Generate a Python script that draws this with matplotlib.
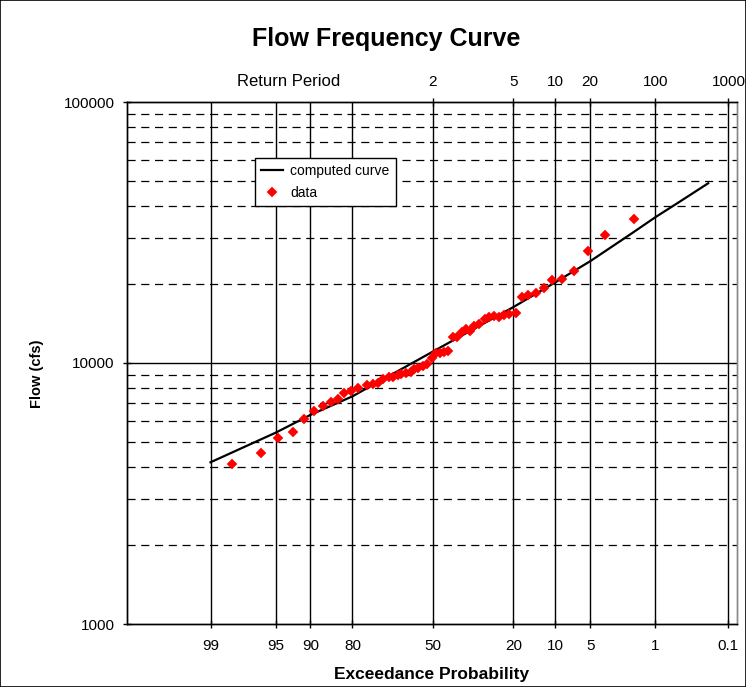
import matplotlib
matplotlib.use("Agg")
import matplotlib.pyplot as plt
from matplotlib.patches import Rectangle
from statistics import NormalDist

plt.rcParams['font.family'] = ['Liberation Sans', 'DejaVu Sans']

# ---- data ----
# observed data: exceedance probability (%) and flow (cfs)
data_prob = [98.2, 96.4, 94.7, 92.9, 91.2, 89.4, 87.5, 85.7, 84.0, 82.3,
             80.5, 78.4, 75.6, 73.6, 71.9, 69.8, 67.9, 66.3, 64.3, 62.9,
             61.1, 59.1, 57.8, 56.2, 54.3, 52.4, 50.5, 48.9, 47.1, 45.4,
             43.6, 41.6, 40.0, 38.2, 36.5, 34.9, 33.3, 31.4, 29.3, 27.9,
             26.1, 24.5, 22.8, 21.2, 19.3, 17.6, 16.0, 14.1, 12.3, 10.6,
             8.8, 7.0, 5.2, 3.56, 1.79]
data_flow = [4105, 4518, 5160, 5440, 6101, 6520, 6842, 7089, 7278, 7642,
             7777, 8000, 8260, 8310, 8405, 8706, 8840, 8862, 8974, 9052,
             9157, 9262, 9461, 9569, 9713, 9938, 10420, 10875, 10922, 11050,
             11070, 12613, 12547, 13182, 13459, 13295, 13862, 14071, 14705, 14967,
             15140, 15046, 15234, 15407, 15503, 17950, 18300, 18600, 19435, 20745,
             20927, 22454, 26977, 30880, 35626]

# computed frequency curve
curve_prob = [99, 95, 90, 80, 50, 20, 10, 5, 2, 1, 0.5, 0.2]
curve_flow = [4165, 5408, 6325, 7455, 11065, 16380, 20400, 24550, 30930, 36190, 41390, 48810]

# axis ticks
prob_ticks = [99, 95, 90, 80, 50, 20, 10, 5, 1, 0.1]
prob_labels = ["99", "95", "90", "80", "50", "20", "10", "5", "1", "0.1"]
rp_probs = [50, 20, 10, 5, 1, 0.1]
rp_labels = ["2", "5", "10", "20", "100", "1000"]
y_ticks = [1000, 10000, 100000]
y_labels = ["1000", "10000", "100000"]

nd = NormalDist()
def z(p):
    return nd.inv_cdf(1 - p / 100.0)

W, H = 746, 687
fig = plt.figure(figsize=(W / 100, H / 100), dpi=100)
ax = fig.add_axes([127 / W, 1 - 624 / H, (737 - 127) / W, (624 - 102) / H])

ax.set_yscale('log')
ax.set_ylim(1000, 100000)
ax.set_xlim(-3.2, 3.18)

# grid: minor dashed horizontal
for dec in [1000, 10000]:
    for m in range(2, 10):
        ax.axhline(m * dec, color='black', lw=0.9, ls=(0, (6.5, 4.5)), zorder=1)
ax.axhline(10000, color='black', lw=1.0, zorder=1)
for p in prob_ticks:
    ax.axvline(z(p), color='black', lw=1.0, zorder=1)

ax.plot([z(p) for p in curve_prob], curve_flow, color='black', lw=1.6,
        label='computed curve', zorder=3)
ax.plot([z(p) for p in data_prob], data_flow, ls='none', marker='D', ms=4.8,
        mfc='red', mec='red', mew=0.3, label='data', zorder=4)

ax.set_xticks([z(p) for p in prob_ticks])
ax.set_xticklabels(prob_labels)
ax.set_yticks(y_ticks)
ax.set_yticklabels(y_labels)
ax.yaxis.set_minor_locator(matplotlib.ticker.NullLocator())
ax.tick_params(axis='both', which='major', direction='inout', length=6,
               width=1, labelsize=11, colors='black')
ax.tick_params(axis='x', pad=8)
ax.tick_params(axis='y', pad=6)

ax2 = ax.twiny()
ax2.set_xlim(ax.get_xlim())
ax2.set_xticks([z(p) for p in rp_probs])
ax2.set_xticklabels(rp_labels)
ax2.tick_params(axis='x', direction='inout', length=6, width=1, labelsize=11, pad=6)

for a in (ax, ax2):
    for s in a.spines.values():
        s.set_color('black')
        s.set_linewidth(1.0)
ax.spines['right'].set_color('#888888')
ax2.spines['right'].set_color('#888888')

ax.set_xlabel('Exceedance Probability', fontsize=12.5, fontweight='bold', labelpad=10)
fig.text(37 / W, 1 - 374 / H, 'Flow (cfs)', fontsize=10.5, fontweight='bold',
         rotation=90, ha='center', va='center')

fig.text(386 / W, 1 - 39 / H, 'Flow Frequency Curve', fontsize=18,
         fontweight='bold', ha='center', va='center')
fig.text(289 / W, 1 - 81 / H, 'Return Period', fontsize=12, ha='center', va='center')

leg = ax.legend(loc='upper left', bbox_to_anchor=(255 / W, 1 - 158 / H),
                bbox_transform=fig.transFigure, borderaxespad=0, fancybox=False,
                framealpha=1, edgecolor='black', fontsize=10, handlelength=1.6,
                handletextpad=0.5, borderpad=0.45, labelspacing=0.55)
leg.get_frame().set_linewidth(1.0)
leg.set_zorder(10)

fig.patches.append(Rectangle((0, 0), 1, 1, transform=fig.transFigure,
                             fill=False, edgecolor='black', lw=1.2))

fig.savefig('out.png', dpi=100)
